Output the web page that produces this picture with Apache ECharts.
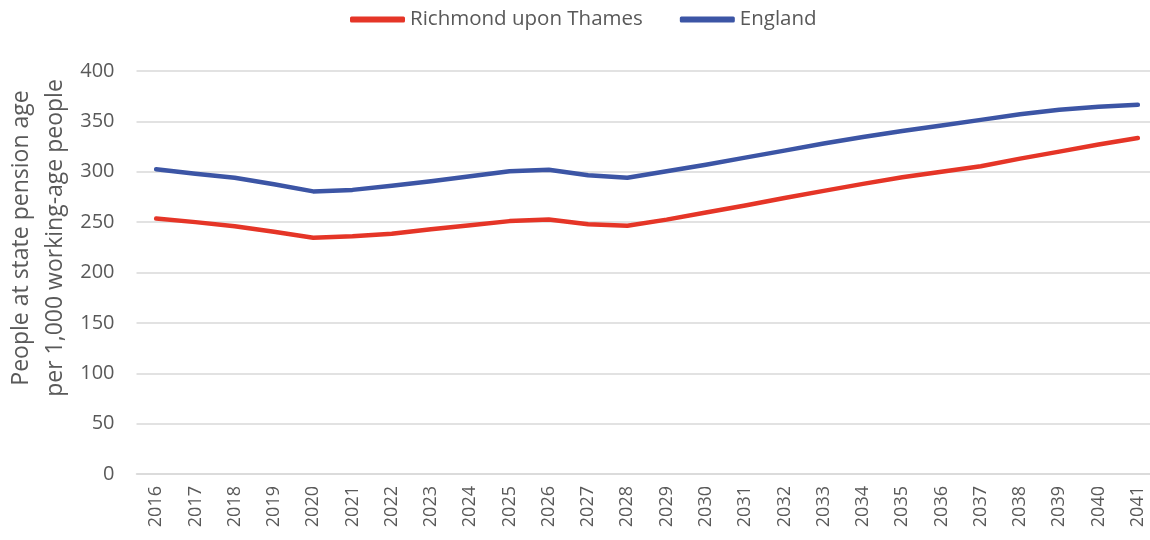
<!DOCTYPE html>
<html>
<head>
<meta charset="utf-8">
<script src="https://cdn.jsdelivr.net/npm/echarts@6/dist/echarts.min.js"></script>
<style>
  html, body { margin: 0; padding: 0; background: #ffffff; }
  #chart { width: 1150px; height: 540px; }
</style>
</head>
<body>
<div id="chart"></div>
<script>
// Years of the projection
const years = ['2016','2017','2018','2019','2020','2021','2022','2023','2024','2025','2026','2027','2028',
               '2029','2030','2031','2032','2033','2034','2035','2036','2037','2038','2039','2040','2041'];

// People at state pension age per 1,000 working-age people
const richmond = [253.5, 250, 246, 240.5, 234.5, 236, 238.5, 243, 247, 251, 252.5, 248, 246.5,
                  252.5, 259.5, 266.5, 274, 281, 288, 294.5, 300, 305.5, 313, 320, 327, 333.5];
const england  = [302.5, 298, 294, 287.5, 280.5, 282, 286, 290.5, 295.5, 300.5, 302, 296.5, 294,
                  300.5, 307, 314, 321, 328, 334.5, 340.5, 346, 351.5, 357, 361.5, 364.5, 366.5];

const seriesNames = ['Richmond upon Thames', 'England'];
const yAxisTitle = 'People at state pension age\nper 1,000 working-age people';

const textColor = '#595959';
const gridColor = '#d9d9d9';
const font = 'Open Sans';

const chart = echarts.init(document.getElementById('chart'), null, { renderer: 'canvas' });
chart.setOption({
  animation: false,
  backgroundColor: '#ffffff',
  legend: {
    top: 4,
    left: 345,
    itemWidth: 55,
    itemHeight: 6,
    itemGap: 37,
    icon: 'roundRect',
    textStyle: { fontFamily: font, fontSize: 20.5, color: textColor },
    data: seriesNames
  },
  grid: {
    left: 136.5, top: 71, width: 1021, height: 403,
    containLabel: false,
    outerBoundsMode: 'none'
  },
  // Vertical axis title, two lines reading bottom to top
  graphic: [{
    type: 'text',
    x: 38,
    y: 238,
    rotation: Math.PI / 2,
    style: {
      text: yAxisTitle,
      font: '23px "Open Sans"',
      fill: textColor,
      lineHeight: 34,
      align: 'center',
      verticalAlign: 'middle'
    }
  }],
  xAxis: {
    type: 'category',
    data: years,
    boundaryGap: true,
    axisLine: { show: true, lineStyle: { color: gridColor, width: 1.5 } },
    axisTick: { show: false },
    axisLabel: {
      rotate: 90,
      margin: 12,
      interval: 0,
      fontFamily: font,
      fontSize: 18,
      color: textColor
    }
  },
  yAxis: {
    type: 'value',
    min: 0,
    max: 400,
    interval: 50,
    axisLine: { show: false },
    axisTick: { show: false },
    splitLine: { show: true, lineStyle: { color: gridColor, width: 1.5 } },
    axisLabel: { margin: 22, fontFamily: font, fontSize: 20, color: textColor }
  },
  series: [
    {
      name: seriesNames[0],
      type: 'line',
      data: richmond,
      showSymbol: false,
      symbol: 'none',
      color: '#e53527',
      lineStyle: { width: 4.5, color: '#e53527', cap: 'round', join: 'round' }
    },
    {
      name: seriesNames[1],
      type: 'line',
      data: england,
      showSymbol: false,
      symbol: 'none',
      color: '#3c55a5',
      lineStyle: { width: 4.5, color: '#3c55a5', cap: 'round', join: 'round' }
    }
  ]
});
</script>
</body>
</html>
